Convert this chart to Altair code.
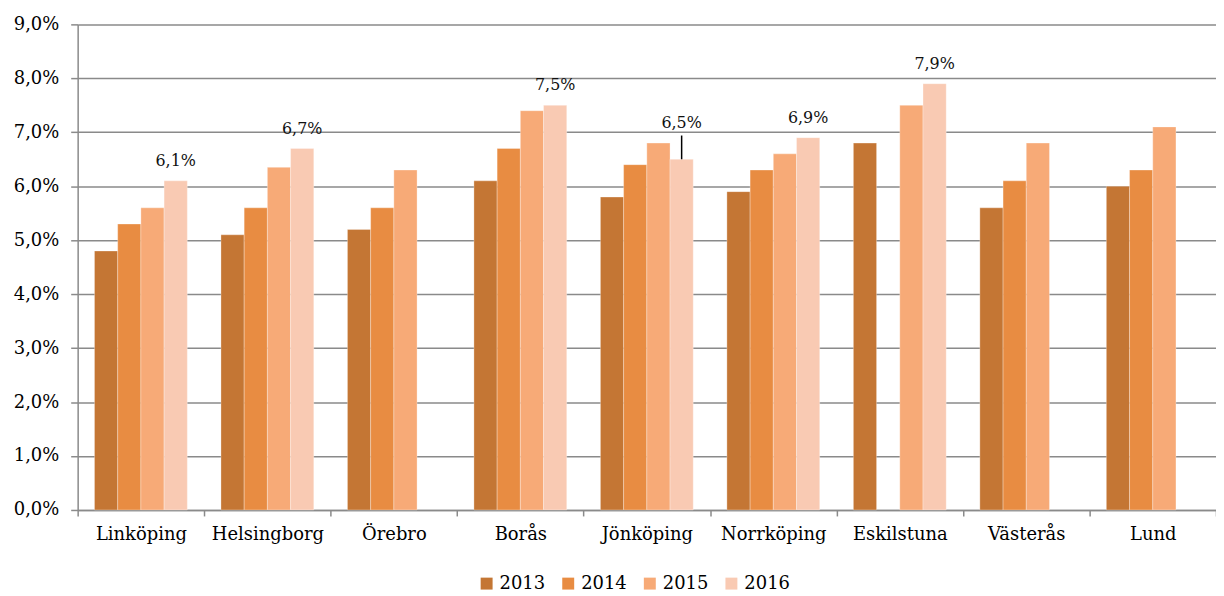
import altair as alt
import pandas as pd

cities = ["Linköping", "Helsingborg", "Örebro", "Borås", "Jönköping",
          "Norrköping", "Eskilstuna", "Västerås", "Lund"]
years = ["2013", "2014", "2015", "2016"]
v2013 = [4.8, 5.1, 5.2, 6.1, 5.8, 5.9, 6.8, 5.6, 6.0]
v2014 = [5.3, 5.6, 5.6, 6.7, 6.4, 6.3, None, 6.1, 6.3]
v2015 = [5.6, 6.35, 6.3, 7.4, 6.8, 6.6, 7.5, 6.8, 7.1]
v2016 = [6.1, 6.7, None, 7.5, 6.5, 6.9, 7.9, None, None]
colors = ["#C47634", "#E88C42", "#F7AA77", "#F9CAB3"]
y_ticks = [0, 1, 2, 3, 4, 5, 6, 7, 8, 9]

series = {"2013": v2013, "2014": v2014, "2015": v2015, "2016": v2016}
rows = []
for yr in years:
    for c, v in zip(cities, series[yr]):
        if v is not None:
            rows.append({"city": c, "year": yr, "value": v})
df = pd.DataFrame(rows)

FONT = "DejaVu Serif"
GRID = "#8a8a8a"

x_enc = alt.X("city:N", sort=cities, title=None,
              scale=alt.Scale(paddingInner=0, paddingOuter=0),
              axis=alt.Axis(labelAngle=0, labelFont=FONT, labelFontSize=18,
                            labelColor="black", tickBand="extent", tickSize=6,
                            tickColor=GRID, tickWidth=1.5, domainColor=GRID,
                            domainWidth=1.5, labelPadding=10, grid=False))
xo_enc = alt.XOffset("year:N", sort=years,
                     scale=alt.Scale(domain=years, paddingInner=0, paddingOuter=0.725))
y_enc = alt.Y("value:Q", title=None,
              scale=alt.Scale(domain=[0, 9], nice=False, zero=True),
              axis=alt.Axis(values=y_ticks,
                            labelExpr="replace(format(datum.value, '.1f'), '.', ',') + '%'",
                            labelFont=FONT, labelFontSize=18, labelColor="black",
                            tickSize=7, tickColor=GRID, tickWidth=1.5,
                            domainColor=GRID, domainWidth=1.5, labelPadding=12,
                            grid=True, gridColor=GRID, gridWidth=1.5))

base = alt.Chart(df).transform_calculate(
    label="replace(format(datum.value, '.1f'), '.', ',') + '%'"
)

bars = base.mark_bar(stroke="white", strokeWidth=0.6, strokeOpacity=0.5).encode(
    x=x_enc, xOffset=xo_enc, y=y_enc,
    color=alt.Color("year:N", scale=alt.Scale(domain=years, range=colors),
                    legend=alt.Legend(orient="none", legendX=402, legendY=553,
                                      direction="horizontal", columns=4, title=None,
                                      symbolType="square", symbolSize=144,
                                      symbolStrokeWidth=0, labelFont=FONT,
                                      labelFontSize=18, labelColor="black",
                                      labelOffset=4, columnPadding=14))
)

lab_main = base.transform_filter(
    (alt.datum.year == "2016") & (alt.datum.city != "Jönköping")
).mark_text(baseline="alphabetic", dy=-15, font=FONT, fontSize=16, color="#111111").encode(
    x=alt.X("city:N", sort=cities), xOffset=alt.XOffset("year:N", sort=years),
    y="value:Q", text="label:N"
)

lab_jk = base.transform_filter(
    (alt.datum.year == "2016") & (alt.datum.city == "Jönköping")
).mark_text(baseline="alphabetic", dy=-31, font=FONT, fontSize=16, color="#111111").encode(
    x=alt.X("city:N", sort=cities), xOffset=alt.XOffset("year:N", sort=years),
    y="value:Q", text="label:N"
)

leader = base.transform_filter(
    (alt.datum.year == "2016") & (alt.datum.city == "Jönköping")
).transform_calculate(top="datum.value + 0.44").mark_rule(
    color="black", strokeWidth=1.5
).encode(
    x=alt.X("city:N", sort=cities), xOffset=alt.XOffset("year:N", sort=years),
    y="value:Q", y2="top:Q"
)

chart = alt.layer(bars, lab_main, lab_jk, leader).properties(
    width=1144, height=488,
    padding={"left": 70, "top": 15, "right": 0, "bottom": 86},
    autosize=alt.AutoSizeParams(type="none"),
    background="white",
).configure_view(stroke=None)

chart.save("out.html", embed_options={"renderer": "svg", "actions": False})
